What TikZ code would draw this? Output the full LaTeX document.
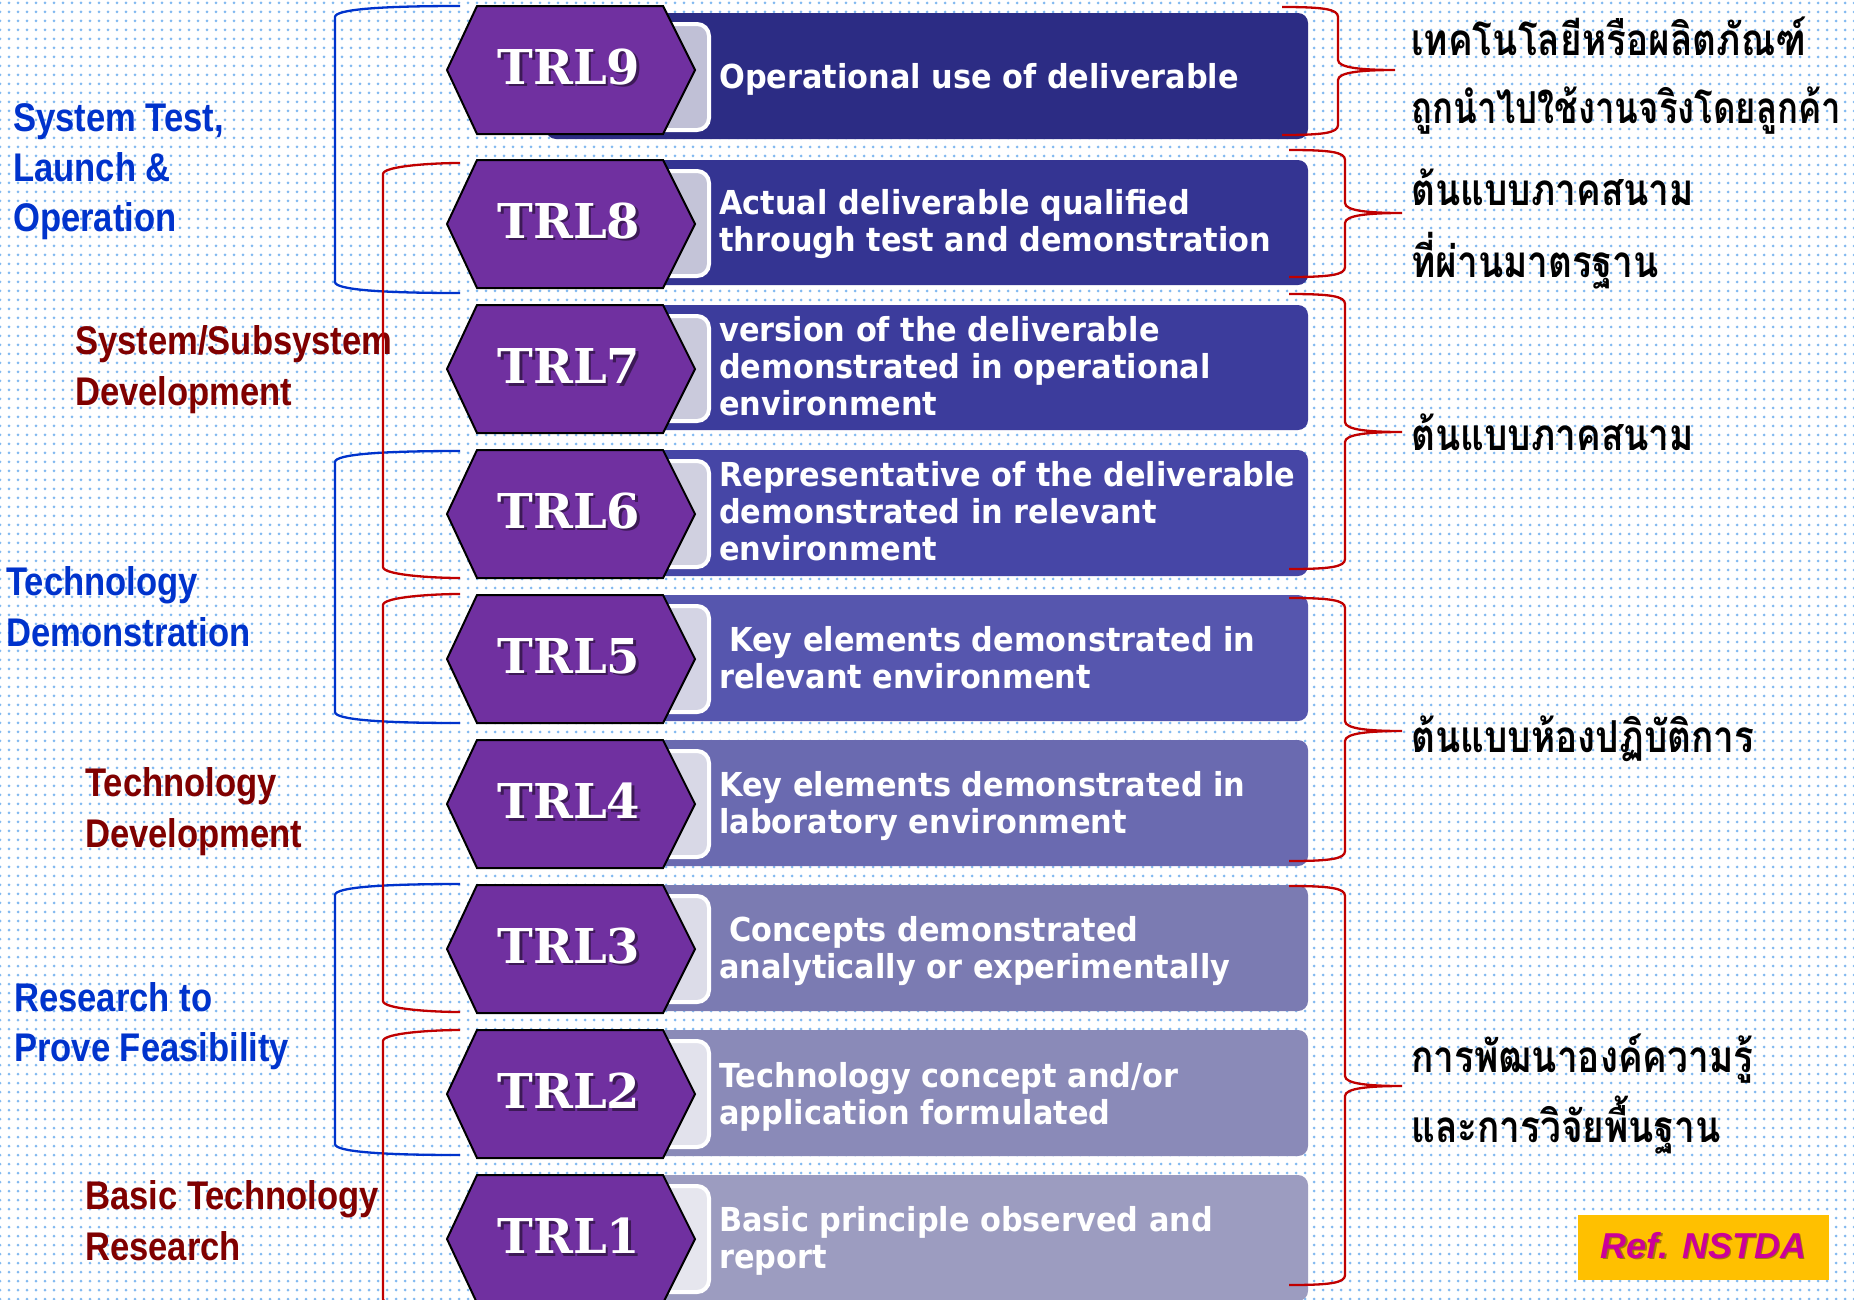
\documentclass[tikz,border=0pt]{standalone}
\usepackage{fontspec}
\usetikzlibrary{patterns.meta}
\newfontfamily\banfont[FakeStretch=0.92]{DejaVu Sans}
\newfontfamily\lblfont[FakeStretch=0.865]{Liberation Sans}
\newfontfamily\trlfont{DejaVu Serif}
\newfontfamily\thaifont[Script=Thai,FakeStretch=0.84]{Loma}
\newfontfamily\reffont{Liberation Sans}

\definecolor{hexpurple}{RGB}{112,48,160}
\definecolor{ban9}{RGB}{44,44,132}
\definecolor{ban8}{RGB}{52,52,146}
\definecolor{ban7}{RGB}{60,60,156}
\definecolor{ban6}{RGB}{70,70,166}
\definecolor{ban5}{RGB}{86,86,174}
\definecolor{ban4}{RGB}{106,106,176}
\definecolor{ban3}{RGB}{123,123,178}
\definecolor{ban2}{RGB}{138,138,184}
\definecolor{ban1}{RGB}{156,156,192}
\definecolor{tab9}{RGB}{192,192,214}
\definecolor{tab8}{RGB}{196,196,216}
\definecolor{tab7}{RGB}{202,202,220}
\definecolor{tab6}{RGB}{208,208,224}
\definecolor{tab5}{RGB}{212,212,228}
\definecolor{tab4}{RGB}{216,216,230}
\definecolor{tab3}{RGB}{220,220,232}
\definecolor{tab2}{RGB}{226,226,236}
\definecolor{tab1}{RGB}{230,230,238}
\definecolor{lblblue}{RGB}{0,51,204}
\definecolor{lblred}{RGB}{128,0,0}
\definecolor{brred}{RGB}{192,0,0}
\definecolor{brblue}{RGB}{0,51,204}
\definecolor{dotblue}{RGB}{130,185,240}
\definecolor{refgold}{RGB}{255,192,0}
\definecolor{refmag}{RGB}{204,0,153}

\tikzset{
  trltext/.style={text=white, font=\fontsize{48}{48}\selectfont\trlfont\bfseries, inner sep=0pt},
  trlshadow/.style={text=black, opacity=0.45, font=\fontsize{48}{48}\selectfont\trlfont\bfseries, inner sep=0pt},
  bantext/.style={text=white, font=\fontsize{33}{37}\selectfont\banfont\bfseries, align=left, inner sep=0pt, anchor=west},
  lblb/.style={text=lblblue, font=\fontsize{40}{50}\selectfont\lblfont\bfseries, inner sep=0pt, anchor=base west},
  lblr/.style={text=lblred, font=\fontsize{40}{50}\selectfont\lblfont\bfseries, inner sep=0pt, anchor=base west},
  thai/.style={text=black, font=\fontsize{44}{50}\selectfont\thaifont\bfseries, inner sep=0pt, anchor=base west},
  rbrace/.style={draw=brred, line width=2.3pt},
  lbrack/.style={line width=2.3pt},
}

% #1 level, #2 hexagon top, #3 banner top, #4 banner bottom, #5 text shift, #6 text
\newcommand\trlrow[6]{%
  \fill[ban#1, rounded corners=10pt] (546,#3) rectangle (1308,#4);
  \draw[fill=tab#1, draw=white, line width=4pt, rounded corners=12pt] (600,#3+11) rectangle (709,#4-9);
  \draw[fill=hexpurple, draw=black, line width=2pt] (447,#2+64) -- (477,#2) -- (663,#2) -- (695,#2+64) -- (663,#2+128) -- (477,#2+128) -- cycle;
  \node[trlshadow] (trl#1s) at (571.5,#2+63.5) {TRL#1};
  \node[trltext] (trl#1) at (569,#2+61) {TRL#1};
  \node[bantext] (txt#1) at (719,{(#3+#4)/2+#5}) {#6};
}
\newcommand\rbr[4]{%
  \draw[rbrace, xshift=#1] (1289,#2) .. controls (1330,#2) and (1345,#2+2) .. (1345,#2+10) -- (1345,#3-10) .. controls (1345,#3-2) and (1370,#3) .. (1402,#3) .. controls (1370,#3) and (1345,#3+2) .. (1345,#3+10) -- (1345,#4-10) .. controls (1345,#4-2) and (1330,#4) .. (1289,#4);
}
\newcommand\lbr[4]{%
  \draw[lbrack, draw=#1] (460,#3) .. controls (#2+50,#3) and (#2,#3+3) .. (#2,#3+11) -- (#2,#4-11) .. controls (#2,#4-3) and (#2+50,#4) .. (460,#4);
}

\begin{document}
\begin{tikzpicture}[x=1pt,y=-1pt]
\useasboundingbox (0,0) rectangle (1854,1299);
\fill[white] (0,0) rectangle (1854,1299);
\fill[pattern={Dots[distance=9pt,radius=1.5pt]}, pattern color=dotblue] (0,0) rectangle (1854,1299);

% left labels
\node[lblb] (l1a) at (13,131) {System Test,};
\node[lblb] (l1b) at (13,181) {Launch \&};
\node[lblb] (l1c) at (13,231) {Operation};
\node[lblr] (l2a) at (75,354) {System/Subsystem};
\node[lblr] (l2b) at (75,405) {Development};
\node[lblb] (l3a) at (6,595) {Technology};
\node[lblb] (l3b) at (6,646) {Demonstration};
\node[lblr] (l4a) at (85,796) {Technology};
\node[lblr] (l4b) at (85,847) {Development};
\node[lblb] (l5a) at (14,1011) {Research to};
\node[lblb] (l5b) at (14,1061) {Prove Feasibility};
\node[lblr] (l6a) at (85,1209) {Basic Technology};
\node[lblr] (l6b) at (85,1260) {Research};

% left brackets
\lbr{brblue}{335}{6}{293}
\lbr{brblue}{335}{451}{723}
\lbr{brblue}{335}{884}{1155}
\lbr{brred}{383}{163}{578}
\lbr{brred}{383}{594}{1012}
\lbr{brred}{383}{1030}{1310}

% rows
\trlrow{9}{6}{13}{139}{3}{Operational use of deliverable}
\trlrow{8}{160}{160}{285}{2}{Actual deliverable qualified\\through test and demonstration}
\trlrow{7}{305}{305}{430}{-1}{version of the deliverable\\demonstrated in operational\\environment}
\trlrow{6}{450}{450}{576}{-2}{Representative of the deliverable\\demonstrated in relevant\\environment}
\trlrow{5}{595}{595}{721}{0}{\hspace*{10pt}Key elements demonstrated in\\relevant environment}
\trlrow{4}{740}{740}{866}{3}{Key elements demonstrated in\\laboratory environment}
\trlrow{3}{885}{885}{1011}{3}{\hspace*{10pt}Concepts demonstrated\\analytically or experimentally}
\trlrow{2}{1030}{1030}{1156}{3.5}{Technology concept and/or\\application formulated}
\trlrow{1}{1175}{1175}{1301}{3}{Basic principle observed and\\report}

% right braces
\rbr{-7pt}{7}{70}{135}
\rbr{0pt}{150}{213}{277}
\rbr{0pt}{294}{432}{569}
\rbr{0pt}{598}{731}{861}
\rbr{0pt}{886}{1086}{1285}

% Thai texts
\node[thai] (th1) at (1411,55) {เทคโนโลยีหรือผลิตภัณฑ์};
\node[thai] (th2) at (1411,123) {\scalebox{0.94}[1]{ถูกนำไปใช้งานจริงโดยลูกค้า}};
\node[thai] (th3) at (1411,205) {ต้นแบบภาคสนาม};
\node[thai] (th4) at (1411,277) {ที่ผ่านมาตรฐาน};
\node[thai] (th5) at (1411,450) {ต้นแบบภาคสนาม};
\node[thai] (th6) at (1411,752) {ต้นแบบห้องปฏิบัติการ};
\node[thai] (th7) at (1411,1072) {การพัฒนาองค์ความรู้};
\node[thai] (th8) at (1411,1142) {และการวิจัยพื้นฐาน};

% reference box
\node[fill=refgold, minimum width=251pt, minimum height=65pt, inner sep=0pt] (refbox) at (1703.5,1247.5) {};
\node[text=black, opacity=0.35, font=\fontsize{36}{36}\selectfont\reffont\bfseries\itshape, inner sep=0pt] (refs) at (1705,1247) {Ref. NSTDA};
\node[text=refmag, font=\fontsize{36}{36}\selectfont\reffont\bfseries\itshape, inner sep=0pt] (reftxt) at (refbox.center) [yshift=2pt] {Ref. NSTDA};
\end{tikzpicture}
\end{document}
